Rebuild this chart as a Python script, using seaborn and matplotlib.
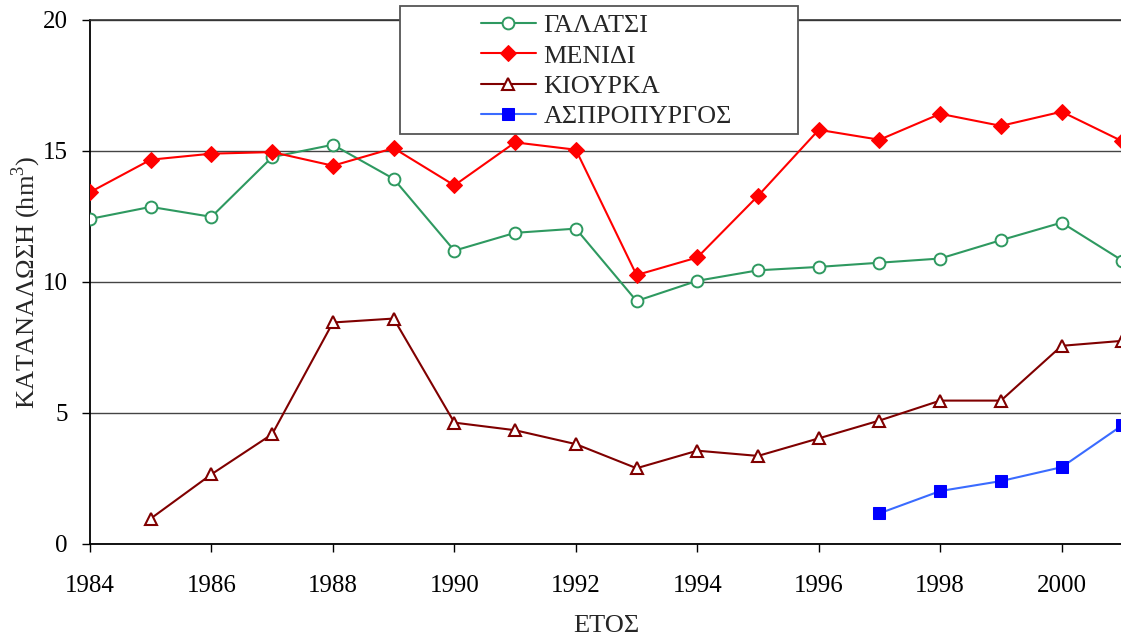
import matplotlib
matplotlib.use("Agg")
import matplotlib.pyplot as plt
from matplotlib.patches import Rectangle
import seaborn as sns

# Annual consumption (hm^3) per water treatment plant
years_galatsi = [1984, 1985, 1986, 1987, 1988, 1989, 1990, 1991, 1992,
                 1993, 1994, 1995, 1996, 1997, 1998, 1999, 2000, 2001]
galatsi = [12.40, 12.86, 12.48, 14.76, 15.23, 13.93, 11.19, 11.87, 12.03,
           9.27, 10.04, 10.44, 10.57, 10.73, 10.89, 11.59, 12.26, 10.81]

years_menidi = years_galatsi
menidi = [13.42, 14.66, 14.89, 14.95, 14.43, 15.10, 13.68, 15.32, 15.04,
          10.26, 10.93, 13.28, 15.80, 15.42, 16.41, 15.95, 16.49, 15.36]

years_kiourka = [1985, 1986, 1987, 1988, 1989, 1990, 1991, 1992,
                 1993, 1994, 1995, 1996, 1997, 1998, 1999, 2000, 2001]
kiourka = [0.97, 2.66, 4.19, 8.45, 8.60, 4.63, 4.34, 3.81,
           2.89, 3.56, 3.36, 4.03, 4.71, 5.47, 5.47, 7.56, 7.75]

years_aspropyrgos = [1997, 1998, 1999, 2000, 2001]
aspropyrgos = [1.17, 2.02, 2.40, 2.93, 4.53]

labels = ["ΓΑΛΑΤΣΙ", "ΜΕΝΙΔΙ", "ΚΙΟΥΡΚΑ", "ΑΣΠΡΟΠΥΡΓΟΣ"]
x_ticks = [1984, 1986, 1988, 1990, 1992, 1994, 1996, 1998, 2000]
y_ticks = [0, 5, 10, 15, 20]

sns.set_style("white")
plt.rcParams["font.family"] = ["Liberation Serif", "DejaVu Serif"]
plt.rcParams["mathtext.fontset"] = "custom"
plt.rcParams["mathtext.rm"] = "Liberation Serif"

W, H = 1121, 642
fig = plt.figure(figsize=(W / 100, H / 100), dpi=100)
ax = fig.add_axes([90 / W, 1 - 544 / H, 1032.4 / W, (544 - 19.7) / H])

series = [
    (years_galatsi, galatsi, dict(color="#2E9960", marker="o", markersize=8.5,
                                  markerfacecolor="white", markeredgecolor="#2E9960",
                                  markeredgewidth=1.4)),
    (years_menidi, menidi, dict(color="#FF0000", marker="D", markersize=7.8,
                                markerfacecolor="#FF0000", markeredgecolor="#FF0000")),
    (years_kiourka, kiourka, dict(color="#800000", marker="^", markersize=9.2,
                                  markerfacecolor="white", markeredgecolor="#800000",
                                  markeredgewidth=1.5)),
    (years_aspropyrgos, aspropyrgos, dict(color="#3A6BFF", marker="s", markersize=8,
                                          markerfacecolor="#0000FF",
                                          markeredgecolor="#0000FF")),
]

for (xs, ys, style), lab in zip(series, labels):
    sns.lineplot(x=xs, y=ys, ax=ax, label=lab, linewidth=1.5, legend=False,
                 estimator=None, sort=False, zorder=3, **style)

ax.set_xlim(1984, 2001)
ax.set_ylim(0, 20)
ax.set_xticks(x_ticks)
ax.set_yticks(y_ticks)
ax.yaxis.grid(True, color="#444444", linewidth=1.0)
ax.xaxis.grid(False)

for side in ("left", "bottom"):
    ax.spines[side].set_color("black")
    ax.spines[side].set_linewidth(1.3)
ax.spines["top"].set_color("#333333")
ax.spines["top"].set_linewidth(1.2)
ax.spines["right"].set_visible(False)

ax.tick_params(axis="both", which="major", direction="out", length=6,
               width=1.0, color="black", labelsize=18, labelcolor="black")
ax.tick_params(axis="x", pad=16.5, bottom=True)
ax.tick_params(axis="y", pad=10, left=True)

ax.set_xlabel("ΕΤΟΣ", fontsize=19, labelpad=13)
ax.set_ylabel(r"ΚΑΤΑΝΑΛΩΣΗ (hm$^{\mathregular{3}}$)", fontsize=19, labelpad=0)

# Legend box above the top of the plot area
box = Rectangle((400 / W, 1 - 134 / H), 398 / W, 128 / H,
                transform=fig.transFigure, facecolor="white",
                edgecolor="#555555", linewidth=1.3, zorder=4)
fig.patches.append(box)

handles, labs = ax.get_legend_handles_labels()
fig.legend(handles, labs, loc="upper left",
           bbox_to_anchor=(481 / W, 1 - 14 / H), bbox_transform=fig.transFigure,
           frameon=False, fontsize=18.8, handlelength=2.1, handletextpad=0.3,
           labelspacing=0.27, borderpad=0, borderaxespad=0)

fig.savefig("out.png", dpi=100)
